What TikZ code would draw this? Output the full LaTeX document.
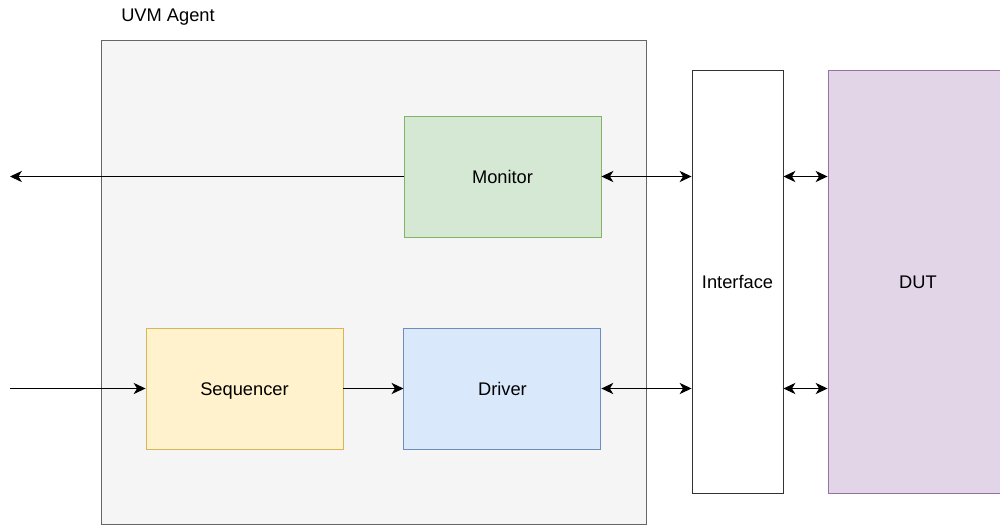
\documentclass[tikz,border=0pt]{standalone}
\usepackage{fontspec}
\setmainfont{Liberation Sans}
\usetikzlibrary{arrows.meta, positioning}

\definecolor{agentfill}{HTML}{F5F5F5}
\definecolor{agentline}{HTML}{666666}
\definecolor{monfill}{HTML}{D5E8D4}
\definecolor{monline}{HTML}{82B366}
\definecolor{seqfill}{HTML}{FFF2CC}
\definecolor{seqline}{HTML}{D6B656}
\definecolor{drvfill}{HTML}{DAE8FC}
\definecolor{drvline}{HTML}{6C8EBF}
\definecolor{dutfill}{HTML}{E1D5E7}
\definecolor{dutline}{HTML}{9673A6}

\tikzset{
    lbl/.style = {font=\fontsize{10.4}{12}\selectfont},
    blk/.style = {draw, lbl, line width=0.55pt, minimum width=3.94cm, minimum height=2.42cm,
                  inner sep=0pt, text height=1.6ex, text depth=0.2ex},
    tall/.style = {draw, lbl, line width=0.55pt, minimum height=8.48cm, inner sep=0pt},
    wire/.style = {line width=0.65pt, >={Stealth[length=6.8pt, width=6.4pt, inset=2pt]}}
}

\begin{document}
\begin{tikzpicture}[x=0.02cm, y=-0.02cm]
    \useasboundingbox (0,0) rectangle (1000,525);

    % agent container
    \draw[fill=agentfill, draw=agentline, line width=0.55pt] (101,40) rectangle (646,524);
    \node[lbl] (agentlbl) at (168,17) {UVM Agent};

    % blocks inside the agent
    \node[blk, fill=monfill, draw=monline] (monitor) at (502.5,176.5) {Monitor};
    \node[blk, fill=seqfill, draw=seqline] (sequencer) at (244.5,388.5) {Sequencer};
    \node[blk, fill=drvfill, draw=drvline, right=1.2cm of sequencer] (driver) {Driver};

    % interface and dut
    \node[tall, fill=white, draw=black!80, minimum width=1.82cm] (iface) at (737.5,282) {Interface};
    \node[tall, fill=dutfill, draw=dutline, minimum width=3.6cm] (dut) at (918,282) {DUT};

    \coordinate (out) at (10,176.5);
    \coordinate (in) at (10,388.5);

    \draw[wire, ->] (monitor.west) -- (out);
    \draw[wire, ->] (in) -- (sequencer.west);
    \draw[wire, ->] (sequencer.east) -- (driver.west);
    \draw[wire, <->] (monitor.east) -- (monitor.east -| iface.west);
    \draw[wire, <->] (driver.east) -- (driver.east -| iface.west);
    \draw[wire, <->] (iface.east |- monitor) -- (dut.west |- monitor);
    \draw[wire, <->] (iface.east |- driver) -- (dut.west |- driver);
\end{tikzpicture}
\end{document}
